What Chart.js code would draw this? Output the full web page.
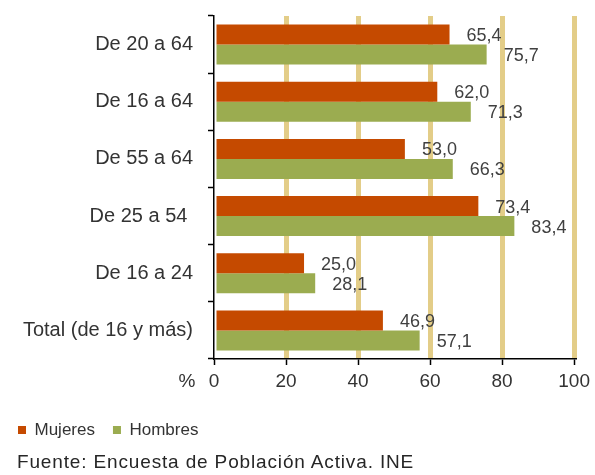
<!DOCTYPE html>
<html>
<head>
<meta charset="utf-8">
<script src="https://cdn.jsdelivr.net/npm/chart.js@4"></script>
<style>
  html, body { margin: 0; padding: 0; background: #fff; }
  #wrap { position: relative; width: 595px; height: 475px; }
  #fuente {
    position: absolute; left: 17px; top: 450px;
    font: 19px "Liberation Sans", Arial, sans-serif;
    letter-spacing: 0.85px; line-height: 24px;
    color: #262626; white-space: nowrap;
  }
</style>
</head>
<body>
<div id="wrap">
  <canvas id="chart" width="595" height="475"></canvas>
  <div id="fuente">Fuente: Encuesta de Población Activa. INE</div>
</div>
<script>
// datos: tasa de empleo por grupo de edad
const categories = ['De 20 a 64', 'De 16 a 64', 'De 55 a 64', 'De 25 a 54 ', 'De 16 a 24', 'Total (de 16 y más)']
const mujeres = [65.4, 62.0, 53.0, 73.4, 25.0, 46.9]
const hombres = [75.7, 71.3, 66.3, 83.4, 28.1, 57.1]
const xTicks = [0, 20, 40, 60, 80, 100]

const FONT = '"Liberation Sans", Arial, sans-serif'
const fmt = v => v.toFixed(1).replace('.', ',')

// etiquetas de valor a la derecha de cada barra + el "%" junto al 0
const valueLabels = {
  id: 'valueLabels',
  afterDatasetsDraw(chart) {
    const ctx = chart.ctx
    ctx.save()
    ctx.font = '18px ' + FONT
    ctx.fillStyle = '#404040'
    ctx.textAlign = 'left'
    ctx.textBaseline = 'middle'
    chart.data.datasets.forEach((ds, i) => {
      chart.getDatasetMeta(i).data.forEach((bar, j) => {
        ctx.fillText(fmt(ds.data[j]), bar.x + 17, bar.y + 1.5)
      })
    })
    const xs = chart.scales.x
    ctx.font = '19px ' + FONT
    ctx.fillStyle = '#333'
    ctx.textAlign = 'center'
    ctx.fillText('%', xs.getPixelForValue(0) - 27, xs.top + 22.5)
    ctx.restore()
  }
}

new Chart(document.getElementById('chart'), {
  type: 'bar',
  data: {
    labels: categories,
    datasets: [
      { label: 'Mujeres', data: mujeres, backgroundColor: '#C54A00', borderWidth: 0 },
      { label: 'Hombres', data: hombres, backgroundColor: '#9BAC50', borderWidth: 0 }
    ]
  },
  options: {
    indexAxis: 'y',
    responsive: false,
    animation: false,
    categoryPercentage: 0.7,
    barPercentage: 1.0,
    layout: { padding: { top: 16, right: 19, bottom: 26.5, left: 0 } },
    scales: {
      x: {
        min: 0,
        max: 100,
        afterBuildTicks: s => { s.ticks = xTicks.map(v => ({ value: v })) },
        afterFit: s => { s.height = 44.5 },
        ticks: { color: '#333', padding: 5, font: { size: 19, family: FONT } },
        grid: {
          color: c => (c.tick && c.tick.value === 0) ? 'rgba(0,0,0,0)' : '#E3CD88',
          lineWidth: 5,
          tickColor: '#000',
          tickWidth: 1.5,
          tickLength: 6
        },
        border: { color: '#000', width: 1.5 }
      },
      y: {
        afterFit: s => { s.width = 214; s.paddingTop = 0; s.paddingBottom = 0 },
        ticks: { color: '#333', padding: 15, font: { size: 20, family: FONT } },
        grid: {
          drawOnChartArea: false,
          offset: true,
          tickColor: '#000',
          tickWidth: 1.5,
          tickLength: 6
        },
        border: { color: '#000', width: 1.5 }
      }
    },
    plugins: {
      legend: {
        position: 'bottom',
        align: 'start',
        labels: {
          boxWidth: 8,
          boxHeight: 8,
          padding: 18,
          color: '#333',
          font: { size: 17, family: FONT }
        }
      },
      tooltip: { enabled: false }
    }
  },
  plugins: [valueLabels]
})
</script>
</body>
</html>
